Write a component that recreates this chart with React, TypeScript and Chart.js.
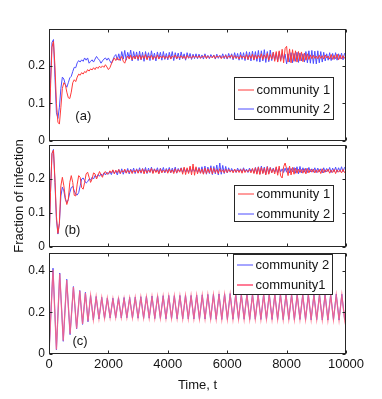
import { useEffect, useRef } from 'react';
import { Chart, registerables } from 'chart.js';

Chart.register(...registerables);

// ---------- DATA ----------
// Panels (a) and (b): sampled every 50 time units, t = 0 .. 10000 (201 values)
const T_STEP = 50;

const aRed = [
  0, 0.14, 0.25, 0.265, 0.2, 0.1, 0.05, 0.045, 0.09, 0.14, 0.155, 0.15, 0.13, 0.115, 0.113, 0.13, 0.155, 0.163, 0.158, 0.17,
  0.178, 0.175, 0.182, 0.178, 0.185, 0.182, 0.19, 0.186, 0.192, 0.189, 0.195, 0.19, 0.197, 0.193, 0.199, 0.195, 0.2, 0.196, 0.203, 0.197,
  0.19, 0.195, 0.205, 0.213, 0.221, 0.214, 0.222, 0.215, 0.218, 0.225, 0.212, 0.207, 0.219, 0.226, 0.218, 0.228, 0.216, 0.226, 0.219, 0.228,
  0.218, 0.229, 0.217, 0.227, 0.22, 0.23, 0.216, 0.226, 0.221, 0.228, 0.217, 0.225, 0.22, 0.229, 0.218, 0.226, 0.221, 0.227, 0.219, 0.225,
  0.22, 0.228, 0.218, 0.226, 0.222, 0.229, 0.219, 0.225, 0.221, 0.227, 0.22, 0.226, 0.218, 0.228, 0.221, 0.225, 0.22, 0.227, 0.222, 0.226,
  0.221, 0.227, 0.22, 0.225, 0.223, 0.228, 0.219, 0.226, 0.222, 0.225, 0.221, 0.228, 0.22, 0.226, 0.223, 0.227, 0.219, 0.225, 0.222, 0.228,
  0.22, 0.226, 0.223, 0.229, 0.219, 0.227, 0.221, 0.225, 0.218, 0.228, 0.221, 0.226, 0.219, 0.23, 0.217, 0.228, 0.22, 0.231, 0.216, 0.229,
  0.219, 0.228, 0.221, 0.232, 0.217, 0.229, 0.22, 0.233, 0.215, 0.23, 0.218, 0.236, 0.212, 0.238, 0.21, 0.24, 0.212, 0.244, 0.208, 0.246,
  0.252, 0.21, 0.245, 0.208, 0.243, 0.212, 0.24, 0.21, 0.238, 0.213, 0.237, 0.211, 0.234, 0.215, 0.232, 0.217, 0.229, 0.219, 0.228, 0.22,
  0.226, 0.219, 0.228, 0.22, 0.227, 0.218, 0.229, 0.221, 0.226, 0.218, 0.23, 0.217, 0.228, 0.219, 0.231, 0.216, 0.229, 0.218, 0.227, 0.22,
  0.226,
];

const aBlue = [
  0, 0.16, 0.262, 0.27, 0.17, 0.075, 0.06, 0.09, 0.14, 0.17, 0.165, 0.15, 0.143, 0.155, 0.168, 0.172, 0.185, 0.196, 0.195, 0.208,
  0.214, 0.21, 0.216, 0.212, 0.221, 0.215, 0.221, 0.207, 0.212, 0.216, 0.21, 0.218, 0.225, 0.219, 0.215, 0.207, 0.213, 0.218, 0.221, 0.215,
  0.221, 0.213, 0.207, 0.216, 0.225, 0.23, 0.216, 0.232, 0.214, 0.238, 0.218, 0.241, 0.215, 0.236, 0.22, 0.242, 0.213, 0.238, 0.218, 0.237,
  0.214, 0.239, 0.216, 0.236, 0.212, 0.238, 0.218, 0.235, 0.214, 0.24, 0.217, 0.234, 0.213, 0.237, 0.219, 0.236, 0.215, 0.238, 0.217, 0.233,
  0.216, 0.236, 0.219, 0.238, 0.214, 0.235, 0.218, 0.234, 0.216, 0.237, 0.219, 0.232, 0.215, 0.235, 0.22, 0.233, 0.217, 0.231, 0.219, 0.232,
  0.219, 0.231, 0.22, 0.229, 0.218, 0.232, 0.221, 0.228, 0.219, 0.23, 0.222, 0.229, 0.218, 0.231, 0.22, 0.228, 0.221, 0.232, 0.219, 0.23,
  0.218, 0.233, 0.22, 0.232, 0.216, 0.235, 0.219, 0.233, 0.215, 0.236, 0.217, 0.235, 0.214, 0.238, 0.216, 0.237, 0.213, 0.239, 0.215, 0.238,
  0.212, 0.241, 0.21, 0.24, 0.213, 0.243, 0.209, 0.238, 0.211, 0.242, 0.214, 0.236, 0.216, 0.234, 0.212, 0.237, 0.215, 0.233, 0.218, 0.231,
  0.205, 0.232, 0.21, 0.235, 0.208, 0.233, 0.212, 0.236, 0.209, 0.234, 0.213, 0.232, 0.21, 0.238, 0.208, 0.24, 0.207, 0.241, 0.206, 0.239,
  0.205, 0.24, 0.208, 0.238, 0.21, 0.236, 0.213, 0.232, 0.215, 0.235, 0.214, 0.233, 0.217, 0.235, 0.215, 0.232, 0.218, 0.234, 0.216, 0.233,
  0.228,
];

const bRed = [
  0, 0.16, 0.275, 0.285, 0.2, 0.09, 0.04, 0.07, 0.18, 0.205, 0.18, 0.145, 0.125, 0.14, 0.19, 0.21, 0.19, 0.152, 0.15, 0.185,
  0.21, 0.205, 0.175, 0.17, 0.19, 0.215, 0.22, 0.205, 0.19, 0.2, 0.218, 0.215, 0.2, 0.21, 0.222, 0.212, 0.205, 0.218, 0.222, 0.214,
  0.216, 0.224, 0.218, 0.227, 0.215, 0.226, 0.219, 0.228, 0.216, 0.225, 0.22, 0.229, 0.217, 0.226, 0.219, 0.227, 0.216, 0.225, 0.22, 0.228,
  0.217, 0.227, 0.219, 0.23, 0.215, 0.228, 0.218, 0.226, 0.22, 0.231, 0.216, 0.229, 0.219, 0.227, 0.215, 0.23, 0.218, 0.226, 0.22, 0.228,
  0.217, 0.229, 0.219, 0.227, 0.216, 0.23, 0.218, 0.228, 0.22, 0.232, 0.214, 0.235, 0.213, 0.233, 0.216, 0.238, 0.212, 0.244, 0.211, 0.236,
  0.215, 0.231, 0.217, 0.229, 0.214, 0.232, 0.216, 0.23, 0.218, 0.233, 0.215, 0.231, 0.219, 0.228, 0.216, 0.23, 0.22, 0.227, 0.218, 0.229,
  0.219, 0.228, 0.221, 0.226, 0.218, 0.229, 0.22, 0.227, 0.219, 0.228, 0.217, 0.23, 0.219, 0.226, 0.221, 0.228, 0.218, 0.231, 0.216, 0.233,
  0.214, 0.235, 0.213, 0.234, 0.216, 0.232, 0.212, 0.236, 0.214, 0.233, 0.218, 0.23, 0.215, 0.236, 0.211, 0.238, 0.209, 0.203, 0.236, 0.247,
  0.23, 0.21, 0.238, 0.212, 0.234, 0.214, 0.232, 0.217, 0.229, 0.219, 0.228, 0.217, 0.23, 0.215, 0.231, 0.218, 0.228, 0.22, 0.229, 0.218,
  0.227, 0.219, 0.228, 0.216, 0.23, 0.218, 0.227, 0.221, 0.229, 0.217, 0.226, 0.219, 0.228, 0.216, 0.227, 0.22, 0.226, 0.218, 0.228, 0.219,
  0.224,
];

const bBlue = [
  0, 0.16, 0.275, 0.287, 0.19, 0.08, 0.038, 0.07, 0.15, 0.176, 0.165, 0.14, 0.13, 0.14, 0.16, 0.175, 0.178, 0.165, 0.155, 0.153,
  0.16, 0.18, 0.2, 0.203, 0.195, 0.188, 0.192, 0.2, 0.197, 0.205, 0.2, 0.21, 0.205, 0.213, 0.208, 0.215, 0.21, 0.218, 0.212, 0.22,
  0.214, 0.222, 0.213, 0.226, 0.217, 0.224, 0.212, 0.228, 0.216, 0.23, 0.214, 0.227, 0.218, 0.231, 0.215, 0.229, 0.219, 0.232, 0.216, 0.23,
  0.219, 0.233, 0.217, 0.231, 0.22, 0.234, 0.216, 0.232, 0.219, 0.235, 0.218, 0.23, 0.221, 0.233, 0.217, 0.232, 0.22, 0.234, 0.218, 0.231,
  0.221, 0.234, 0.218, 0.232, 0.22, 0.235, 0.217, 0.231, 0.222, 0.233, 0.219, 0.232, 0.221, 0.23, 0.218, 0.234, 0.22, 0.231, 0.222, 0.233,
  0.219, 0.234, 0.217, 0.236, 0.215, 0.238, 0.214, 0.235, 0.216, 0.239, 0.213, 0.237, 0.215, 0.241, 0.212, 0.247, 0.214, 0.24, 0.216, 0.237,
  0.218, 0.233, 0.22, 0.231, 0.221, 0.229, 0.219, 0.232, 0.222, 0.23, 0.22, 0.233, 0.221, 0.229, 0.219, 0.232, 0.222, 0.23, 0.218, 0.234,
  0.216, 0.236, 0.215, 0.238, 0.217, 0.235, 0.214, 0.237, 0.216, 0.234, 0.219, 0.232, 0.22, 0.234, 0.218, 0.233, 0.221, 0.23, 0.219, 0.232,
  0.22, 0.233, 0.218, 0.231, 0.221, 0.234, 0.217, 0.236, 0.215, 0.237, 0.218, 0.233, 0.22, 0.232, 0.219, 0.234, 0.221, 0.23, 0.22, 0.233,
  0.219, 0.232, 0.221, 0.23, 0.218, 0.233, 0.22, 0.231, 0.222, 0.234, 0.219, 0.232, 0.221, 0.235, 0.22, 0.233, 0.222, 0.236, 0.221, 0.234,
  0.235,
];

// Panel (c): peak / trough times and values
const cTimes = [
  0, 135, 250, 361, 480, 597, 710, 822, 930, 1036, 1130, 1226, 1313, 1400,
  1494, 1588, 1682, 1776, 1870, 1964, 2058, 2152, 2246, 2340,
  2434, 2528, 2622, 2716, 2810, 2904, 2998, 3092, 3186, 3280,
  3374, 3468, 3562, 3656, 3750, 3844, 3938, 4032, 4126, 4220,
  4314, 4408, 4502, 4596, 4690, 4784, 4878, 4972, 5066, 5160,
  5254, 5348, 5442, 5536, 5630, 5724, 5818, 5912, 6006, 6100,
  6194, 6288, 6382, 6476, 6570, 6664, 6758, 6852, 6946, 7040,
  7134, 7228, 7322, 7416, 7510, 7604, 7698, 7792, 7886, 7980,
  8074, 8168, 8262, 8356, 8450, 8544, 8638, 8732, 8826, 8920,
  9014, 9108, 9202, 9296, 9390, 9484, 9578, 9672, 9766, 9860,
  9954, 10000,
];

const cRed = [
  0, 0.405, 0.022, 0.385, 0.064, 0.355, 0.096, 0.322, 0.123, 0.303, 0.144, 0.293, 0.157, 0.28,
  0.165, 0.274, 0.17, 0.27, 0.173, 0.267, 0.175, 0.265, 0.176, 0.265, 0.176, 0.266, 0.176, 0.268, 0.175, 0.27,
  0.175, 0.272, 0.174, 0.273, 0.174, 0.275, 0.173, 0.276, 0.173, 0.276,
  0.172, 0.277, 0.172, 0.278, 0.172, 0.278, 0.171, 0.279, 0.171, 0.279,
  0.171, 0.28, 0.17, 0.281, 0.17, 0.282, 0.169, 0.283, 0.169, 0.284,
  0.168, 0.284, 0.168, 0.285, 0.168, 0.284, 0.169, 0.284, 0.168, 0.285,
  0.168, 0.284, 0.169, 0.283, 0.168, 0.284, 0.169, 0.285, 0.168, 0.284,
  0.168, 0.285, 0.167, 0.284, 0.168, 0.283, 0.167, 0.284, 0.168, 0.283,
  0.167, 0.283, 0.166, 0.282, 0.166, 0.283, 0.165, 0.282, 0.164, 0.283,
  0.165, 0.282, 0.164, 0.283, 0.166, 0.22,
];

const cBlue = [
  0, 0.412, 0.02, 0.389, 0.061, 0.359, 0.093, 0.324, 0.121, 0.305, 0.142, 0.296, 0.155, 0.281,
  0.163, 0.276, 0.168, 0.272, 0.171, 0.269, 0.173, 0.268, 0.174, 0.27, 0.173, 0.271, 0.174, 0.272, 0.173, 0.273,
  0.172, 0.275, 0.171, 0.277, 0.172, 0.278, 0.17, 0.279, 0.171, 0.28,
  0.169, 0.281, 0.17, 0.28, 0.169, 0.281, 0.169, 0.282, 0.168, 0.281,
  0.168, 0.283, 0.167, 0.284, 0.168, 0.286, 0.166, 0.287, 0.167, 0.288,
  0.166, 0.289, 0.166, 0.29, 0.167, 0.288, 0.166, 0.287, 0.167, 0.288,
  0.166, 0.289, 0.167, 0.287, 0.166, 0.288, 0.167, 0.289, 0.166, 0.287,
  0.166, 0.289, 0.165, 0.288, 0.166, 0.287, 0.165, 0.288, 0.166, 0.286,
  0.165, 0.287, 0.164, 0.286, 0.165, 0.287, 0.163, 0.288, 0.163, 0.287,
  0.164, 0.288, 0.163, 0.287, 0.165, 0.222,
];

const X_TICKS = [0, 2000, 4000, 6000, 8000, 10000];
const AB_Y_TICKS = [0, 0.1, 0.2];
const C_Y_TICKS = [0, 0.2, 0.4];

// ---------- STYLE ----------
const W = 382;
const H = 399;
const FONT = "'Liberation Sans', Arial, Helvetica, sans-serif";
const AXIS = '#262626';
const TEXT = '#151515';
const RED = '#ff3a3a';
const BLUE = '#4d4dff';
const PINK = 'rgba(255,100,130,0.85)';

const gridTimes = (n: number) => Array.from({ length: n }, (_, i) => i * T_STEP);

const decorPlugin = {
  id: 'panelDecor',
  afterDatasetsDraw(chart: any, _args: any, opts: any) {
    const { ctx, chartArea: a, scales } = chart;
    const L = Math.round(a.left) + 0.5;
    const R = Math.round(a.right) - 0.5;
    const T = Math.round(a.top) + 0.5;
    const B = Math.round(a.bottom) - 0.5;
    const tl = 3;
    ctx.save();
    ctx.strokeStyle = AXIS;
    ctx.lineWidth = 1;
    ctx.strokeRect(L, T, R - L, B - T);
    ctx.beginPath();
    for (const v of opts.xTicks) {
      const px = Math.round(scales.x.getPixelForValue(v)) + 0.5;
      ctx.moveTo(px, B); ctx.lineTo(px, B - tl);
      ctx.moveTo(px, T); ctx.lineTo(px, T + tl);
    }
    for (const v of opts.yTicks) {
      const py = Math.round(scales.y.getPixelForValue(v)) + 0.5;
      ctx.moveTo(L, py); ctx.lineTo(L + tl, py);
      ctx.moveTo(R, py); ctx.lineTo(R - tl, py);
    }
    ctx.stroke();

    // panel tag
    ctx.fillStyle = TEXT;
    ctx.font = `13px ${FONT}`;
    ctx.textAlign = 'center';
    ctx.textBaseline = 'middle';
    ctx.fillText(opts.tag.text, scales.x.getPixelForValue(opts.tag.x), scales.y.getPixelForValue(opts.tag.y));

    // legend
    const lg = opts.legend;
    ctx.fillStyle = '#ffffff';
    ctx.fillRect(lg.left, lg.top, lg.right - lg.left, lg.bottom - lg.top);
    ctx.strokeStyle = AXIS;
    ctx.lineWidth = 1;
    ctx.strokeRect(lg.left + 0.5, lg.top + 0.5, lg.right - lg.left, lg.bottom - lg.top);
    ctx.textAlign = 'left';
    ctx.textBaseline = 'middle';
    ctx.font = `13px ${FONT}`;
    lg.items.forEach((it: any, i: number) => {
      const y = lg.rows[i];
      ctx.strokeStyle = it.color;
      ctx.lineWidth = it.width;
      ctx.beginPath();
      ctx.moveTo(lg.left + 4, y);
      ctx.lineTo(lg.left + 20, y);
      ctx.stroke();
      ctx.fillStyle = TEXT;
      ctx.fillText(it.label, lg.left + 22.5, y);
    });
    ctx.restore();
  },
};

function makeConfig(p: any): any {
  return {
    type: 'line',
    data: {
      datasets: p.series.map((s: any) => ({
        label: s.label,
        data: s.times.map((t: number, i: number) => ({ x: t, y: s.values[i] })),
        borderColor: s.color,
        borderWidth: s.width,
        pointRadius: 0,
        tension: 0,
        fill: false,
      })),
    },
    options: {
      responsive: false,
      animation: false,
      events: [],
      parsing: false,
      normalized: true,
      layout: {
        autoPadding: false,
        padding: { left: 0, right: 36, top: p.top, bottom: p.bottom },
      },
      plugins: {
        legend: { display: false },
        tooltip: { enabled: false },
        panelDecor: {
          xTicks: X_TICKS,
          yTicks: p.yTicks,
          tag: p.tag,
          legend: p.legend,
        },
      },
      scales: {
        x: {
          type: 'linear',
          min: 0,
          max: 10000,
          display: p.showX,
          afterBuildTicks: (s: any) => { s.ticks = X_TICKS.map((v) => ({ value: v })); },
          afterFit: (s: any) => { s.height = p.showX ? 45 : 0; },
          grid: { display: false, drawTicks: false, tickLength: 0 },
          border: { display: false },
          ticks: {
            color: TEXT,
            font: { family: FONT, size: 13 },
            padding: 3,
            maxRotation: 0,
            autoSkip: false,
            callback: (v: any) => String(v),
          },
          title: {
            display: p.showX,
            text: 'Time, t',
            color: TEXT,
            font: { family: FONT, size: 13 },
            padding: { top: 0, bottom: 6 },
          },
        },
        y: {
          type: 'linear',
          min: 0,
          max: p.yMax,
          afterBuildTicks: (s: any) => { s.ticks = p.yTicks.map((v: number) => ({ value: v })); },
          afterFit: (s: any) => { s.width = 49; },
          grid: { display: false, drawTicks: false, tickLength: 0 },
          border: { display: false },
          ticks: {
            color: TEXT,
            font: { family: FONT, size: 12 },
            padding: 4,
            autoSkip: false,
            callback: (v: any) => String(v),
          },
          title: {
            display: !!p.yTitle,
            text: p.yTitle || '',
            color: TEXT,
            font: { family: FONT, size: 13 },
            padding: { top: 12, bottom: 0 },
          },
        },
      },
    },
    plugins: [decorPlugin],
  };
}

const abTimes = gridTimes(aRed.length);

const PANELS = [
  {
    top: 29,
    bottom: H - 141,
    yMax: 0.298,
    yTicks: AB_Y_TICKS,
    showX: false,
    series: [
      { label: 'community 1', times: abTimes, values: aRed, color: RED, width: 1 },
      { label: 'community 2', times: abTimes, values: aBlue, color: BLUE, width: 1 },
    ],
    tag: { text: '(a)', x: 1155, y: 0.065 },
    legend: {
      left: 234, top: 77, right: 333, bottom: 119, rows: [90, 109],
      items: [
        { label: 'community 1', color: RED, width: 1 },
        { label: 'community 2', color: BLUE, width: 1 },
      ],
    },
  },
  {
    top: 145,
    bottom: H - 247,
    yMax: 0.3,
    yTicks: AB_Y_TICKS,
    showX: false,
    yTitle: 'Fraction of infection',
    series: [
      { label: 'community 1', times: abTimes, values: bRed, color: RED, width: 1 },
      { label: 'community 2', times: abTimes, values: bBlue, color: BLUE, width: 1 },
    ],
    tag: { text: '(b)', x: 790, y: 0.05 },
    legend: {
      left: 234, top: 185, right: 333, bottom: 221, rows: [194, 214],
      items: [
        { label: 'community 1', color: RED, width: 1 },
        { label: 'community 2', color: BLUE, width: 1 },
      ],
    },
  },
  {
    top: 253,
    bottom: 0,
    yMax: 0.485,
    yTicks: C_Y_TICKS,
    showX: true,
    series: [
      { label: 'community1', times: cTimes, values: cRed, color: PINK, width: 1.3 },
      { label: 'community 2', times: cTimes, values: cBlue, color: BLUE, width: 1 },
    ],
    tag: { text: '(c)', x: 1044, y: 0.058 },
    legend: {
      left: 233, top: 254, right: 332, bottom: 294, rows: [265, 285],
      items: [
        { label: 'community 2', color: BLUE, width: 1 },
        { label: 'community1', color: PINK, width: 2 },
      ],
    },
  },
];

function Panel({ cfg }: { cfg: any }) {
  const ref = useRef<HTMLCanvasElement | null>(null);
  useEffect(() => {
    if (!ref.current) return;
    const chart = new Chart(ref.current, makeConfig(cfg));
    return () => chart.destroy();
  }, [cfg]);
  return (
    <canvas
      ref={ref}
      width={W}
      height={H}
      style={{ position: 'absolute', left: 0, top: 0, width: W, height: H }}
    />
  );
}

export default function App() {
  return (
    <div style={{ position: 'absolute', left: 0, top: 0, width: W, height: H, background: '#fff' }}>
      {PANELS.map((p, i) => (
        <Panel key={i} cfg={p} />
      ))}
    </div>
  );
}
